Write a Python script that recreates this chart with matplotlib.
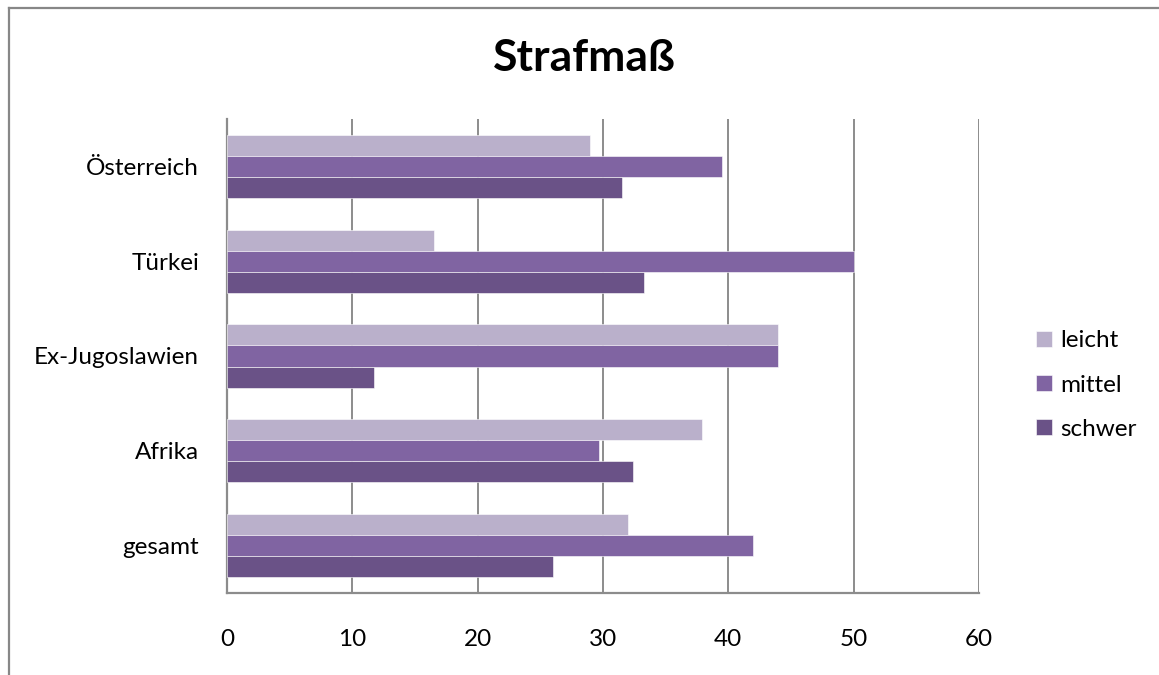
import numpy as np
import matplotlib
matplotlib.use("Agg")
from matplotlib import pyplot as plt
from matplotlib.lines import Line2D

# data
laender = ["Österreich", "Türkei", "Ex-Jugoslawien", "Afrika", "gesamt"]
leicht = [29.0, 16.5, 44.0, 37.9, 32.0]
mittel = [39.5, 50.0, 44.0, 29.7, 42.0]
schwer = [31.5, 33.3, 11.7, 32.4, 26.0]

serien = ["leicht", "mittel", "schwer"]
farben = ["#BAB0CB", "#8064A2", "#6A5287"]
ticks_x = [0, 10, 20, 30, 40, 50, 60]

plt.rcParams['font.family'] = ['Lato', 'DejaVu Sans']

fig = plt.figure(figsize=(11.59, 6.75), dpi=100)
ax = fig.add_axes([227 / 1159, 1 - 593 / 675, 752 / 1159, 474 / 675])

pos = np.arange(len(laender))
h = 0.222
for i, (werte, name, farbe) in enumerate(zip([leicht, mittel, schwer], serien, farben)):
    ax.barh(pos + (i - 1) * h, werte, height=h, color=farbe, label=name,
            edgecolor="white", linewidth=0.4, zorder=3)

ax.set_ylim(len(laender) - 0.5, -0.5)
ax.set_xlim(0, 60)
ax.set_xticks(ticks_x)
ax.set_yticks(pos)
ax.set_yticklabels(laender)
ax.tick_params(axis="both", length=0, labelsize=17.5, colors="black")
ax.tick_params(axis="x", pad=26)
ax.tick_params(axis="y", pad=20)
ax.grid(axis="x", color="#8C8C8C", linewidth=1.4, zorder=0)
for s in ["top", "right"]:
    ax.spines[s].set_visible(False)
for s in ["left", "bottom"]:
    ax.spines[s].set_color("#8C8C8C")
    ax.spines[s].set_linewidth(1.6)

fig.text(584 / 1159, 1 - 58 / 675, "Strafmaß", fontsize=32, fontweight="bold",
         ha="center", va="center")

ax.legend(loc="center left", bbox_to_anchor=(1024 / 1159, 1 - 385 / 675),
          bbox_transform=fig.transFigure, frameon=False, fontsize=17.5,
          handlelength=0.65, handleheight=0.65, handletextpad=0.35,
          labelspacing=0.95, borderpad=0)

# chart border (only left and top visible)
fig.add_artist(Line2D([8.5 / 1159, 8.5 / 1159], [0, 1 - 8 / 675],
                      transform=fig.transFigure, color="#878787", linewidth=1.6))
fig.add_artist(Line2D([8.5 / 1159, 1], [1 - 8 / 675, 1 - 8 / 675],
                      transform=fig.transFigure, color="#878787", linewidth=1.6))

fig.savefig("out.png", dpi=100)
